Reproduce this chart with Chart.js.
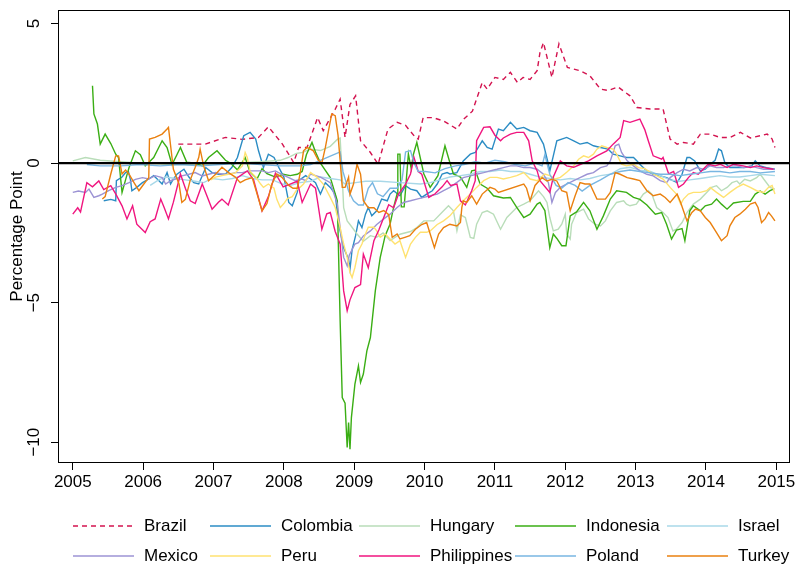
<!DOCTYPE html>
<html>
<head>
<meta charset="utf-8">
<script src="https://cdn.jsdelivr.net/npm/chart.js@4.4.1/dist/chart.umd.min.js"></script>
<style>
  html, body { margin: 0; padding: 0; background: #fff; }
  canvas { display: block; }
</style>
</head>
<body>
<canvas id="chart" width="806" height="576"></canvas>
<script>
// значения: [год, п.п.]
const countries = ["Brazil", "Colombia", "Hungary", "Indonesia", "Israel",
                   "Mexico", "Peru", "Philippines", "Poland", "Turkey"];
const colors = ["#D3134F", "#2B8CC4", "#B9DDB9", "#3AAE14", "#A8D8E8",
                "#9C93D4", "#FFE270", "#F0157F", "#78B6E2", "#EA800F"];
const xTicks = [2005, 2006, 2007, 2008, 2009, 2010, 2011, 2012, 2013, 2014, 2015];
const yTicks = [-10, -5, 0, 5];

const brazil = [[2006.50,0.68],[2006.88,0.68],[2007.17,0.92],[2007.41,0.85],[2007.64,0.92],[2007.78,1.30],[2007.98,0.68],[2008.14,0.02],[2008.21,0.56],[2008.33,0.56],[2008.48,1.63],[2008.56,1.16],[2008.73,1.93],[2008.80,2.29],[2008.87,0.92],[2008.94,2.10],[2009.02,2.41],[2009.09,0.80],[2009.23,0.38],[2009.34,-0.04],[2009.48,1.22],[2009.61,1.46],[2009.73,1.35],[2009.87,0.92],[2009.91,0.86],[2009.98,1.63],[2010.12,1.63],[2010.27,1.51],[2010.46,1.22],[2010.55,1.56],[2010.68,1.86],[2010.82,2.89],[2010.89,2.65],[2011.00,3.07],[2011.12,3.00],[2011.22,3.25],[2011.32,2.89],[2011.40,3.07],[2011.50,3.00],[2011.60,3.31],[2011.64,3.96],[2011.69,4.32],[2011.81,3.07],[2011.91,4.27],[2012.03,3.43],[2012.21,3.31],[2012.35,3.13],[2012.50,2.65],[2012.61,2.60],[2012.75,2.73],[2012.92,2.41],[2013.02,1.99],[2013.21,1.94],[2013.39,1.94],[2013.49,0.86],[2013.59,0.68],[2013.68,0.74],[2013.82,0.68],[2013.92,1.04],[2014.06,1.04],[2014.20,0.92],[2014.34,0.92],[2014.49,1.10],[2014.63,0.90],[2014.77,0.98],[2014.87,1.04],[2014.94,0.86],[2014.98,0.56]];

const colombia = [[2005.44,-1.35],[2005.54,-1.30],[2005.61,-1.35],[2005.62,-0.63],[2005.70,-0.50],[2005.75,-0.34],[2005.79,-0.30],[2005.82,-0.60],[2005.84,-0.99],[2005.91,-0.87],[2005.99,-0.70],[2006.08,-0.57],[2006.15,-0.45],[2006.20,-0.57],[2006.27,-0.75],[2006.34,-0.34],[2006.39,-0.75],[2006.43,-0.57],[2006.48,-0.40],[2006.58,-0.22],[2006.65,-0.50],[2006.72,-0.70],[2006.79,-0.75],[2006.84,-0.45],[2006.89,-0.16],[2006.98,-0.34],[2007.07,-0.40],[2007.17,-0.40],[2007.26,-0.16],[2007.34,0.20],[2007.43,0.98],[2007.52,1.10],[2007.60,0.86],[2007.64,0.44],[2007.71,-0.16],[2007.78,0.32],[2007.86,0.20],[2007.93,-0.16],[2008.00,-0.50],[2008.07,-1.41],[2008.12,-1.53],[2008.19,-1.05],[2008.21,-0.63],[2008.31,-0.45],[2008.38,-0.57],[2008.45,-0.70],[2008.52,-1.11],[2008.59,-0.70],[2008.66,-0.87],[2008.73,-1.11],[2008.78,-2.19],[2008.85,-3.03],[2008.92,-3.44],[2008.94,-3.80],[2008.97,-3.10],[2009.02,-2.60],[2009.06,-2.07],[2009.11,-2.31],[2009.16,-1.83],[2009.20,-1.59],[2009.25,-1.89],[2009.32,-1.71],[2009.39,-1.29],[2009.47,-1.35],[2009.51,-1.11],[2009.56,-0.99],[2009.65,-1.17],[2009.73,-0.81],[2009.80,-0.93],[2009.89,-0.99],[2009.96,-1.23],[2010.03,-1.11],[2010.11,-0.99],[2010.18,-0.75],[2010.25,-0.39],[2010.32,-0.34],[2010.36,-0.39],[2010.46,-0.34],[2010.55,0.08],[2010.65,0.32],[2010.72,0.38],[2010.82,0.80],[2010.89,0.56],[2010.96,0.50],[2011.05,1.22],[2011.12,1.16],[2011.22,1.46],[2011.31,1.22],[2011.41,1.28],[2011.50,1.16],[2011.60,1.10],[2011.69,0.68],[2011.76,-0.04],[2011.78,-0.28],[2011.83,0.26],[2011.88,0.80],[2012.02,0.92],[2012.12,0.80],[2012.21,0.68],[2012.31,0.74],[2012.40,0.62],[2012.50,0.56],[2012.61,0.50],[2012.68,0.32],[2012.78,0.26],[2012.87,0.20],[2012.97,0.20],[2013.02,0.08],[2013.06,-0.04],[2013.16,-0.28],[2013.25,-0.40],[2013.35,-0.46],[2013.44,-0.52],[2013.59,-0.70],[2013.66,-0.40],[2013.73,0.20],[2013.77,0.20],[2013.84,0.08],[2013.92,-0.28],[2013.99,-0.22],[2014.06,-0.04],[2014.13,0.10],[2014.18,0.50],[2014.22,0.44],[2014.27,0.00],[2014.34,-0.16],[2014.41,-0.16],[2014.55,-0.16],[2014.65,-0.10],[2014.70,0.08],[2014.77,-0.10],[2014.86,-0.16],[2014.98,-0.22]];

const hungary = [[2005.00,0.08],[2005.18,0.20],[2005.39,0.10],[2005.68,0.05],[2005.96,0.00],[2006.39,-0.05],[2006.81,-0.05],[2007.24,0.00],[2007.67,0.05],[2007.95,0.10],[2008.06,0.20],[2008.18,0.35],[2008.26,0.38],[2008.38,0.50],[2008.52,0.45],[2008.66,0.60],[2008.76,0.85],[2008.80,0.90],[2008.83,-0.50],[2008.85,-1.60],[2008.90,-2.07],[2008.94,-2.20],[2009.04,-2.54],[2009.13,-2.80],[2009.23,-2.60],[2009.32,-2.66],[2009.41,-2.50],[2009.51,-2.78],[2009.65,-2.55],[2009.80,-2.45],[2009.89,-2.31],[2009.99,-2.07],[2010.13,-2.07],[2010.27,-1.71],[2010.34,-1.53],[2010.41,-1.71],[2010.46,-2.43],[2010.51,-1.85],[2010.58,-1.95],[2010.65,-2.66],[2010.70,-2.70],[2010.74,-2.19],[2010.82,-1.77],[2010.89,-1.71],[2010.98,-1.83],[2011.08,-2.37],[2011.17,-1.95],[2011.24,-1.77],[2011.31,-1.59],[2011.41,-1.47],[2011.50,-1.35],[2011.62,-0.99],[2011.69,-1.20],[2011.74,-1.41],[2011.78,-1.95],[2011.83,-2.43],[2011.90,-2.37],[2011.95,-2.19],[2012.00,-1.83],[2012.02,-2.54],[2012.07,-2.72],[2012.09,-2.19],[2012.16,-1.77],[2012.26,-1.65],[2012.33,-2.00],[2012.42,-2.19],[2012.50,-2.25],[2012.57,-2.07],[2012.64,-1.71],[2012.73,-1.41],[2012.83,-1.35],[2012.87,-1.47],[2012.92,-1.53],[2013.01,-1.47],[2013.11,-1.11],[2013.18,-0.99],[2013.23,-1.11],[2013.30,-1.59],[2013.39,-1.77],[2013.46,-1.95],[2013.53,-2.43],[2013.58,-2.37],[2013.66,-2.13],[2013.73,-1.77],[2013.82,-1.47],[2013.92,-1.29],[2014.01,-1.05],[2014.08,-0.87],[2014.15,-0.81],[2014.22,-0.99],[2014.30,-0.87],[2014.37,-0.70],[2014.44,-0.64],[2014.48,-0.75],[2014.55,-0.58],[2014.63,-0.64],[2014.72,-0.52],[2014.77,-0.39],[2014.82,-0.57],[2014.91,-0.87],[2014.98,-0.93]];

const indonesia = [[2005.28,2.77],[2005.30,1.76],[2005.35,1.40],[2005.39,0.68],[2005.46,1.04],[2005.54,0.70],[2005.61,0.32],[2005.65,0.20],[2005.70,-1.05],[2005.75,-0.60],[2005.80,-0.16],[2005.89,0.44],[2005.96,0.30],[2006.03,-0.10],[2006.15,0.20],[2006.27,0.80],[2006.34,0.56],[2006.41,-0.05],[2006.48,0.30],[2006.53,0.56],[2006.62,0.03],[2006.74,0.00],[2006.84,-0.10],[2006.93,0.20],[2007.05,0.44],[2007.17,0.10],[2007.24,0.00],[2007.34,-0.24],[2007.45,0.20],[2007.52,-0.32],[2007.62,-0.56],[2007.69,-0.20],[2007.76,-0.38],[2007.88,-0.50],[2007.99,-0.40],[2008.09,-0.45],[2008.19,-0.40],[2008.26,-0.30],[2008.32,0.30],[2008.40,0.74],[2008.45,0.40],[2008.52,0.00],[2008.66,-0.52],[2008.76,-1.35],[2008.80,-5.65],[2008.83,-8.40],[2008.87,-8.60],[2008.90,-10.19],[2008.92,-9.30],[2008.94,-10.25],[2008.96,-9.12],[2009.01,-7.92],[2009.06,-7.27],[2009.09,-7.86],[2009.13,-7.56],[2009.18,-6.73],[2009.23,-6.25],[2009.30,-4.58],[2009.37,-3.38],[2009.44,-2.60],[2009.51,-2.18],[2009.56,-1.59],[2009.61,-1.10],[2009.62,0.32],[2009.65,0.32],[2009.67,-1.57],[2009.71,-1.57],[2009.77,0.33],[2009.81,-0.20],[2009.84,0.30],[2009.89,0.74],[2009.99,-0.39],[2010.08,-0.87],[2010.19,-0.45],[2010.29,0.62],[2010.35,0.10],[2010.41,-0.39],[2010.51,-0.50],[2010.60,-0.87],[2010.67,-0.28],[2010.72,-0.25],[2010.79,-0.75],[2010.89,-0.90],[2010.98,-1.17],[2011.12,-1.25],[2011.22,-1.23],[2011.31,-1.59],[2011.41,-1.95],[2011.50,-1.83],[2011.60,-1.47],[2011.64,-1.41],[2011.71,-1.70],[2011.78,-3.03],[2011.83,-2.54],[2011.88,-2.70],[2011.95,-2.96],[2012.01,-2.96],[2012.07,-1.89],[2012.16,-1.75],[2012.26,-1.41],[2012.35,-1.71],[2012.45,-2.37],[2012.54,-1.90],[2012.64,-1.29],[2012.73,-0.99],[2012.87,-1.05],[2012.97,-1.23],[2013.06,-1.30],[2013.16,-1.50],[2013.28,-1.83],[2013.37,-1.77],[2013.44,-2.19],[2013.51,-2.72],[2013.58,-2.40],[2013.66,-2.35],[2013.70,-2.78],[2013.77,-1.71],[2013.82,-1.53],[2013.92,-1.71],[2013.99,-1.53],[2014.08,-1.47],[2014.15,-1.29],[2014.22,-1.47],[2014.30,-1.65],[2014.39,-1.43],[2014.53,-1.37],[2014.63,-1.37],[2014.70,-1.11],[2014.77,-1.00],[2014.84,-1.11],[2014.91,-0.99],[2014.96,-0.93]];

const israel = [[2006.10,-0.80],[2006.22,-0.60],[2006.32,-0.50],[2006.46,-0.55],[2006.60,-0.60],[2006.74,-0.65],[2006.86,-0.70],[2006.98,-0.55],[2007.13,-0.60],[2007.27,-0.55],[2007.41,-0.45],[2007.55,-0.55],[2007.69,-0.60],[2007.84,-0.60],[2007.98,-0.75],[2008.09,-0.80],[2008.23,-0.70],[2008.38,-0.65],[2008.52,-0.50],[2008.66,-0.55],[2008.80,-0.60],[2008.87,-0.75],[2009.02,-0.70],[2009.16,-0.65],[2009.37,-0.65],[2009.65,-0.70],[2009.94,-0.75],[2010.08,-0.70],[2010.22,-0.60],[2010.36,-0.50],[2010.51,-0.45],[2010.65,-0.40],[2010.79,-0.30],[2010.93,-0.30],[2011.08,-0.25],[2011.22,-0.30],[2011.36,-0.30],[2011.50,-0.40],[2011.64,-0.50],[2011.78,-0.55],[2011.93,-0.60],[2012.07,-0.55],[2012.21,-0.60],[2012.35,-0.55],[2012.50,-0.45],[2012.64,-0.40],[2012.78,-0.20],[2012.92,-0.15],[2013.06,-0.25],[2013.21,-0.30],[2013.35,-0.45],[2013.49,-0.60],[2013.63,-0.65],[2013.77,-0.60],[2013.92,-0.55],[2014.06,-0.50],[2014.20,-0.45],[2014.34,-0.50],[2014.48,-0.50],[2014.63,-0.45],[2014.77,-0.40],[2014.98,-0.45]];

const mexico = [[2005.00,-1.05],[2005.08,-1.00],[2005.18,-1.05],[2005.23,-0.93],[2005.30,-1.23],[2005.37,-1.17],[2005.42,-1.11],[2005.51,-0.99],[2005.61,-0.87],[2005.70,-0.81],[2005.80,-0.70],[2005.89,-0.58],[2005.99,-0.52],[2006.08,-0.57],[2006.17,-0.45],[2006.27,-0.52],[2006.32,-0.75],[2006.39,-0.63],[2006.46,-0.57],[2006.55,-0.46],[2006.65,-0.40],[2006.74,-0.34],[2006.84,-0.46],[2006.93,-0.40],[2007.03,-0.34],[2007.12,-0.40],[2007.22,-0.40],[2007.31,-0.34],[2007.41,-0.34],[2007.50,-0.28],[2007.60,-0.28],[2007.69,-0.28],[2007.78,-0.34],[2007.88,-0.28],[2007.97,-0.40],[2008.07,-0.52],[2008.16,-0.63],[2008.26,-0.57],[2008.31,-0.63],[2008.38,-0.39],[2008.52,-0.50],[2008.66,-0.70],[2008.76,-1.47],[2008.80,-2.31],[2008.85,-3.38],[2008.90,-3.68],[2008.93,-3.30],[2008.97,-3.10],[2009.01,-2.90],[2009.06,-2.85],[2009.13,-2.61],[2009.23,-2.43],[2009.32,-2.20],[2009.42,-2.00],[2009.51,-1.83],[2009.61,-1.59],[2009.70,-1.41],[2009.80,-1.35],[2009.89,-1.29],[2009.99,-1.23],[2010.08,-1.17],[2010.18,-1.11],[2010.27,-0.99],[2010.36,-0.87],[2010.46,-0.69],[2010.55,-0.52],[2010.65,-0.46],[2010.74,-0.40],[2010.84,-0.34],[2010.93,-0.28],[2011.03,-0.22],[2011.12,-0.16],[2011.22,-0.10],[2011.31,-0.10],[2011.41,-0.16],[2011.50,-0.16],[2011.60,-0.22],[2011.69,-0.40],[2011.76,-0.70],[2011.81,-1.41],[2011.86,-1.05],[2011.93,-0.87],[2012.02,-0.75],[2012.12,-0.63],[2012.21,-0.52],[2012.31,-0.40],[2012.40,-0.34],[2012.50,-0.16],[2012.59,-0.10],[2012.64,0.08],[2012.71,0.62],[2012.76,0.68],[2012.80,0.38],[2012.88,0.08],[2012.97,-0.10],[2013.06,-0.28],[2013.16,-0.40],[2013.25,-0.46],[2013.35,-0.63],[2013.44,-0.70],[2013.49,-0.52],[2013.59,-0.34],[2013.68,-0.22],[2013.77,-0.28],[2013.87,-0.16],[2013.96,-0.22],[2014.06,-0.10],[2014.15,-0.16],[2014.25,-0.16],[2014.34,-0.10],[2014.44,-0.10],[2014.53,-0.16],[2014.63,-0.10],[2014.72,-0.16],[2014.82,-0.22],[2014.91,-0.22],[2014.98,-0.22]];

const peru = [[2006.96,-0.60],[2007.03,-0.50],[2007.12,-0.45],[2007.21,-0.40],[2007.31,-0.35],[2007.41,-0.10],[2007.45,0.38],[2007.48,0.20],[2007.52,-0.30],[2007.60,-0.50],[2007.67,-0.75],[2007.71,-0.87],[2007.78,-0.75],[2007.86,-0.90],[2007.90,-1.30],[2007.95,-1.59],[2008.00,-1.45],[2008.05,-1.27],[2008.12,-1.20],[2008.19,-0.93],[2008.23,-0.87],[2008.28,-0.75],[2008.38,-0.34],[2008.47,-0.50],[2008.56,-0.75],[2008.66,-1.23],[2008.73,-1.59],[2008.80,-2.31],[2008.85,-2.90],[2008.90,-3.38],[2008.94,-3.92],[2008.97,-4.10],[2009.01,-3.74],[2009.06,-3.14],[2009.11,-2.90],[2009.16,-2.54],[2009.20,-2.30],[2009.28,-2.30],[2009.32,-2.43],[2009.37,-2.66],[2009.44,-2.54],[2009.51,-2.72],[2009.58,-2.90],[2009.65,-2.78],[2009.73,-3.38],[2009.80,-2.90],[2009.87,-2.66],[2009.94,-2.48],[2010.03,-2.48],[2010.08,-2.43],[2010.18,-2.20],[2010.27,-2.07],[2010.36,-1.89],[2010.46,-1.59],[2010.55,-1.35],[2010.65,-1.11],[2010.74,-0.87],[2010.84,-0.63],[2010.93,-0.51],[2011.03,-0.51],[2011.12,-0.57],[2011.22,-0.51],[2011.31,-0.45],[2011.41,-0.34],[2011.50,-0.57],[2011.60,-0.63],[2011.71,-0.39],[2011.78,-0.45],[2011.86,-0.57],[2011.93,-0.51],[2012.02,-0.33],[2012.12,-0.10],[2012.19,0.14],[2012.26,0.26],[2012.33,0.20],[2012.40,0.32],[2012.45,0.50],[2012.52,0.62],[2012.59,0.56],[2012.68,0.50],[2012.73,0.32],[2012.80,-0.04],[2012.87,-0.10],[2012.97,-0.04],[2013.04,-0.16],[2013.13,-0.20],[2013.25,-0.39],[2013.39,-0.57],[2013.49,-0.87],[2013.58,-1.11],[2013.64,-1.47],[2013.68,-1.29],[2013.75,-1.11],[2013.82,-1.05],[2013.92,-1.05],[2014.01,-0.99],[2014.06,-0.87],[2014.15,-1.05],[2014.25,-1.23],[2014.34,-1.05],[2014.44,-0.87],[2014.53,-0.75],[2014.63,-0.87],[2014.72,-0.99],[2014.82,-1.05],[2014.89,-0.87],[2014.94,-0.80],[2014.98,-1.11]];

const philippines = [[2005.00,-1.83],[2005.07,-1.60],[2005.11,-1.75],[2005.20,-0.70],[2005.28,-0.85],[2005.37,-0.64],[2005.44,-0.95],[2005.54,-0.81],[2005.61,-1.10],[2005.70,-1.53],[2005.77,-2.00],[2005.85,-1.53],[2005.91,-2.19],[2006.03,-2.49],[2006.10,-2.10],[2006.17,-2.00],[2006.25,-1.29],[2006.30,-1.60],[2006.36,-2.00],[2006.43,-1.40],[2006.53,-0.39],[2006.60,-0.90],[2006.67,-1.35],[2006.74,-1.45],[2006.84,-0.75],[2006.91,-1.20],[2006.98,-1.65],[2007.07,-1.40],[2007.12,-1.29],[2007.21,-1.50],[2007.34,-0.52],[2007.48,-0.28],[2007.57,-0.60],[2007.69,-1.71],[2007.78,-1.20],[2007.88,-0.36],[2007.99,-0.85],[2008.09,-0.75],[2008.19,-0.65],[2008.26,-1.41],[2008.38,-0.75],[2008.45,-0.90],[2008.54,-2.37],[2008.61,-1.82],[2008.66,-1.77],[2008.73,-2.45],[2008.80,-2.90],[2008.85,-4.58],[2008.90,-5.29],[2008.94,-4.90],[2009.01,-4.46],[2009.09,-4.35],[2009.13,-3.26],[2009.20,-3.75],[2009.28,-2.78],[2009.35,-2.40],[2009.42,-1.95],[2009.49,-1.49],[2009.56,-1.60],[2009.63,-1.11],[2009.73,-0.75],[2009.80,-0.39],[2009.85,0.20],[2009.91,-0.30],[2009.96,-0.40],[2010.06,-1.23],[2010.15,-1.10],[2010.25,-0.85],[2010.32,-0.63],[2010.37,-0.80],[2010.46,-0.75],[2010.51,-1.35],[2010.58,-1.50],[2010.67,-0.99],[2010.72,-0.63],[2010.74,0.80],[2010.84,1.28],[2010.93,1.30],[2011.00,1.00],[2011.08,0.80],[2011.12,0.90],[2011.22,1.04],[2011.31,1.10],[2011.41,1.10],[2011.48,0.80],[2011.53,0.08],[2011.60,-0.28],[2011.64,-0.63],[2011.78,-1.05],[2011.83,-0.50],[2011.93,0.08],[2012.02,-0.10],[2012.12,-0.15],[2012.21,-0.05],[2012.33,0.08],[2012.45,0.26],[2012.59,0.44],[2012.68,0.68],[2012.78,0.92],[2012.83,1.52],[2012.92,1.46],[2013.06,1.58],[2013.13,1.20],[2013.18,0.80],[2013.25,0.26],[2013.37,0.14],[2013.39,0.20],[2013.47,-0.39],[2013.54,-0.30],[2013.61,-0.87],[2013.68,-0.75],[2013.75,-0.52],[2013.82,-0.34],[2013.89,-0.40],[2013.96,-0.22],[2014.03,-0.04],[2014.13,-0.10],[2014.20,-0.04],[2014.30,-0.16],[2014.39,-0.04],[2014.53,-0.10],[2014.63,-0.16],[2014.72,-0.10],[2014.82,-0.16],[2014.96,-0.22]];

const poland = [[2005.20,-0.05],[2005.39,-0.10],[2005.68,-0.10],[2005.96,-0.05],[2006.24,-0.10],[2006.53,-0.05],[2006.81,-0.10],[2007.10,-0.05],[2007.38,0.00],[2007.67,-0.05],[2007.95,-0.10],[2008.23,-0.10],[2008.38,-0.05],[2008.52,0.10],[2008.66,0.25],[2008.80,0.40],[2008.84,-0.30],[2008.92,-1.00],[2008.99,-1.35],[2009.06,-1.50],[2009.13,-1.50],[2009.20,-0.90],[2009.26,-0.70],[2009.33,-1.10],[2009.41,-1.20],[2009.51,-0.90],[2009.61,-0.90],[2009.68,-0.60],[2009.73,0.40],[2009.80,0.45],[2009.85,0.00],[2009.91,-0.30],[2010.01,-0.30],[2010.15,-0.35],[2010.29,-0.20],[2010.44,-0.10],[2010.56,-0.05],[2010.72,0.05],[2010.86,0.00],[2011.00,0.10],[2011.14,0.05],[2011.29,-0.05],[2011.43,-0.10],[2011.57,0.00],[2011.67,-0.10],[2011.71,0.30],[2011.78,-0.40],[2011.87,-0.80],[2011.95,-0.90],[2012.04,-0.70],[2012.14,-0.80],[2012.24,-1.00],[2012.35,-0.80],[2012.50,-0.60],[2012.64,-0.40],[2012.78,-0.30],[2012.92,-0.25],[2013.06,-0.30],[2013.21,-0.35],[2013.35,-0.40],[2013.49,-0.40],[2013.63,-0.45],[2013.77,-0.40],[2013.92,-0.35],[2014.06,-0.30],[2014.20,-0.30],[2014.34,-0.35],[2014.48,-0.30],[2014.63,-0.30],[2014.77,-0.35],[2014.98,-0.30]];

const turkey = [[2005.42,-1.29],[2005.46,-1.20],[2005.54,-0.39],[2005.61,0.26],[2005.65,0.26],[2005.70,-0.39],[2005.75,-0.25],[2005.80,-0.40],[2005.87,-0.70],[2005.94,-0.99],[2006.01,-0.75],[2006.08,-0.52],[2006.09,0.86],[2006.17,0.92],[2006.27,1.04],[2006.34,1.22],[2006.36,1.28],[2006.41,0.20],[2006.43,-0.22],[2006.51,-0.75],[2006.55,-1.41],[2006.60,-1.30],[2006.67,-0.60],[2006.74,-0.15],[2006.79,0.20],[2006.81,0.50],[2006.86,-0.10],[2006.93,-0.63],[2007.03,-0.40],[2007.12,-0.15],[2007.22,-0.35],[2007.31,-0.50],[2007.38,-0.70],[2007.45,-0.60],[2007.55,-0.52],[2007.62,-1.11],[2007.69,-1.71],[2007.76,-1.45],[2007.83,-0.75],[2007.90,-0.39],[2007.97,-0.50],[2008.07,-0.80],[2008.13,-0.90],[2008.19,-0.90],[2008.23,-0.39],[2008.28,0.44],[2008.33,0.56],[2008.42,0.44],[2008.49,0.10],[2008.54,0.00],[2008.59,0.56],[2008.68,1.76],[2008.73,1.70],[2008.77,1.00],[2008.80,0.08],[2008.83,-0.87],[2008.87,-0.87],[2008.92,-0.50],[2008.94,-1.11],[2008.99,-0.75],[2009.04,-0.04],[2009.09,-0.40],[2009.13,-1.35],[2009.20,-1.60],[2009.28,-1.60],[2009.35,-1.77],[2009.42,-1.70],[2009.49,-1.85],[2009.54,-2.66],[2009.61,-2.54],[2009.65,-2.72],[2009.72,-2.66],[2009.79,-2.60],[2009.87,-2.37],[2009.96,-2.20],[2010.03,-2.13],[2010.08,-2.54],[2010.14,-3.03],[2010.20,-2.54],[2010.27,-2.31],[2010.36,-2.19],[2010.46,-2.25],[2010.51,-2.13],[2010.53,-1.59],[2010.55,-1.35],[2010.60,-1.41],[2010.67,-1.17],[2010.74,-1.47],[2010.82,-1.11],[2010.93,-0.87],[2011.00,-0.93],[2011.05,-1.05],[2011.41,-0.75],[2011.45,-0.90],[2011.50,-1.35],[2011.57,-0.80],[2011.67,-0.52],[2011.74,-0.64],[2011.81,-0.58],[2011.88,-0.64],[2011.95,-0.99],[2012.02,-1.05],[2012.07,-1.71],[2012.14,-1.17],[2012.21,-0.70],[2012.28,-0.75],[2012.35,-0.75],[2012.45,-1.29],[2012.57,-1.29],[2012.64,-1.05],[2012.71,-0.34],[2012.78,-0.40],[2012.88,-0.52],[2012.97,-0.57],[2013.06,-0.63],[2013.16,-0.99],[2013.25,-1.17],[2013.35,-1.11],[2013.42,-1.23],[2013.49,-1.41],[2013.59,-1.11],[2013.64,-1.41],[2013.68,-1.71],[2013.73,-2.07],[2013.80,-1.77],[2013.85,-1.65],[2013.92,-1.71],[2013.99,-1.95],[2014.06,-2.13],[2014.15,-2.49],[2014.22,-2.78],[2014.30,-2.60],[2014.34,-2.25],[2014.41,-1.95],[2014.48,-1.83],[2014.56,-1.65],[2014.63,-1.47],[2014.70,-1.41],[2014.74,-1.59],[2014.79,-2.13],[2014.84,-2.00],[2014.89,-1.77],[2014.93,-1.89],[2014.98,-2.07]];

const seriesData = [brazil, colombia, hungary, indonesia, israel, mexico, peru, philippines, poland, turkey];

const FONT = '"Liberation Sans", Arial, Helvetica, sans-serif';
const legendCols = [73, 210, 359, 515, 667];
const legendRows = [526, 556];

const datasets = countries.map((name, i) => ({
    label: name,
    data: seriesData[i].map(p => ({ x: p[0], y: p[1] })),
    borderColor: colors[i],
    borderWidth: 1.4,
    borderDash: i === 0 ? [5, 4] : [],
    pointRadius: 0,
    tension: 0,
    fill: false,
    order: countries.length - i
}));

// рамка, нулевая линия, подписи оси Y и легенда
const extras = {
    id: 'extras',
    afterDatasetsDraw(chart) {
        const { ctx, chartArea, scales } = chart;
        const y0 = scales.y.getPixelForValue(0);
        ctx.save();
        ctx.strokeStyle = '#000';
        ctx.lineWidth = 2.4;
        ctx.beginPath();
        ctx.moveTo(chartArea.left, y0);
        ctx.lineTo(chartArea.right, y0);
        ctx.stroke();
        ctx.restore();
    },
    afterDraw(chart) {
        const { ctx, chartArea, scales } = chart;
        ctx.save();
        ctx.strokeStyle = '#000';
        ctx.lineWidth = 1;
        ctx.strokeRect(Math.round(chartArea.left) - 0.5, Math.round(chartArea.top) - 0.5,
            Math.round(chartArea.right - chartArea.left) + 1, Math.round(chartArea.bottom - chartArea.top) + 1);

        ctx.fillStyle = '#000';
        ctx.font = '17px ' + FONT;
        ctx.textAlign = 'center';
        ctx.textBaseline = 'middle';
        yTicks.forEach(v => {
            const py = scales.y.getPixelForValue(v);
            ctx.save();
            ctx.translate(34, py);
            ctx.rotate(-Math.PI / 2);
            ctx.fillText(String(v).replace('-', '\u2212'), 0, 0);
            ctx.restore();
        });
        ctx.save();
        ctx.translate(17, (chartArea.top + chartArea.bottom) / 2);
        ctx.rotate(-Math.PI / 2);
        ctx.fillText('Percentage Point', 0, 0);
        ctx.restore();

        ctx.textAlign = 'left';
        chart.data.datasets.forEach((ds, i) => {
            const x = legendCols[i % 5];
            const y = legendRows[Math.floor(i / 5)];
            ctx.strokeStyle = ds.borderColor;
            ctx.lineWidth = 1.4;
            ctx.setLineDash(ds.borderDash);
            ctx.beginPath();
            ctx.moveTo(x, y);
            ctx.lineTo(x + 61, y);
            ctx.stroke();
            ctx.setLineDash([]);
            ctx.fillText(ds.label, x + 71, y);
        });
        ctx.restore();
    }
};

new Chart(document.getElementById('chart'), {
    type: 'line',
    data: { datasets: datasets },
    options: {
        responsive: false,
        animation: false,
        devicePixelRatio: 1,
        layout: { padding: { left: 0, right: 17, top: 11, bottom: 0 } },
        plugins: {
            legend: { display: false },
            tooltip: { enabled: false }
        },
        scales: {
            x: {
                type: 'linear',
                min: 2004.804,
                max: 2015.18,
                afterBuildTicks: scale => { scale.ticks = xTicks.map(v => ({ value: v })); },
                afterFit: scale => { scale.height = 114; },
                border: { display: false },
                grid: { drawOnChartArea: false, drawTicks: true, tickLength: 8, color: '#000', lineWidth: 1 },
                ticks: {
                    color: '#000',
                    font: { family: FONT, size: 17 },
                    padding: 2,
                    maxRotation: 0,
                    autoSkip: false,
                    callback: v => String(v)
                }
            },
            y: {
                type: 'linear',
                min: -10.71,
                max: 5.45,
                afterBuildTicks: scale => { scale.ticks = yTicks.map(v => ({ value: v })); },
                afterFit: scale => { scale.width = 59; },
                border: { display: false },
                grid: { drawOnChartArea: false, drawTicks: true, tickLength: 8, color: '#000', lineWidth: 1 },
                ticks: { display: false }
            }
        }
    },
    plugins: [extras]
});
</script>
</body>
</html>
